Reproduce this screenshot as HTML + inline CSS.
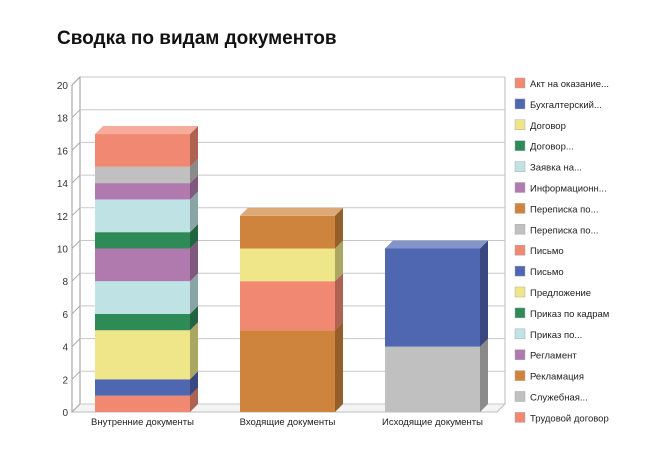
<!DOCTYPE html>
<html><head><meta charset="utf-8"><style>
body{margin:0;background:#fff;width:669px;height:458px;overflow:hidden;font-family:"Liberation Sans",sans-serif}
</style></head><body>
<svg id="c" width="669" height="458" xmlns="http://www.w3.org/2000/svg">
<text x="57" y="44" font-size="19" font-weight="bold" fill="#111">Сводка по видам документов</text>
</svg>
<script>
const categories=["Внутренние документы","Входящие документы","Исходящие документы"];
const seriesNames=["Акт на оказание...","Бухгалтерский...","Договор","Договор...","Заявка на...","Информационн...","Переписка по...","Переписка по...","Письмо","Письмо","Предложение","Приказ по кадрам","Приказ по...","Регламент","Рекламация","Служебная...","Трудовой договор"];
const seriesColors=["#f08872","#4f66b0","#efe68a","#2e8b57","#bfe2e5","#b07aaf","#cf843d","#c0c0c0","#f08872","#4f66b0","#efe68a","#2e8b57","#bfe2e5","#b07aaf","#cf843d","#c0c0c0","#f08872"];
const s0=[1,0,0],s1=[1,0,0],s2=[3,0,0],s3=[1,0,0],s4=[2,0,0],s5=[2,0,0],s6=[0,5,0],s7=[0,0,4],s8=[0,3,0],s9=[0,0,6],s10=[0,2,0],s11=[1,0,0],s12=[2,0,0],s13=[1,0,0],s14=[0,2,0],s15=[1,0,0],s16=[2,0,0];
const seriesValues=[s0,s1,s2,s3,s4,s5,s6,s7,s8,s9,s10,s11,s12,s13,s14,s15,s16];
const yTicks=[0,2,4,6,8,10,12,14,16,18,20];
const NS="http://www.w3.org/2000/svg",svg=document.getElementById('c');
const y0=412,yMax=20,ppu=(412-85)/20,dx=8,dy=8,xL=72,xR=497;
const y=v=>y0-v*ppu;
const barX=i=>95+i*145,bw=95;
function el(t,a,p){const e=document.createElementNS(NS,t);for(const k in a)e.setAttribute(k,a[k]);(p||svg).appendChild(e);return e;}
function shade(c,f){const n=parseInt(c.slice(1),16);let r=n>>16,g=(n>>8)&255,b=n&255;
 const m=v=>Math.max(0,Math.min(255,Math.round(f<1?v*f:v+(255-v)*(f-1))));return `rgb(${m(r)},${m(g)},${m(b)})`;}
// walls
let w=el('polygon',{points:`${xL},${y(0)} ${xL+dx},${y(0)-dy} ${xL+dx},${y(yMax)-dy} ${xL},${y(yMax)}`,fill:'#fff',stroke:'#999','stroke-width':1});

let fl=el('polygon',{points:`${xL},${y(0)} ${xL+dx},${y(0)-dy} ${xR+dx},${y(0)-dy} ${xR},${y(0)}`,fill:'#f4f4f4',stroke:'#bbb','stroke-width':1});

el('line',{x1:xR+dx,y1:y(0)-dy,x2:xR+dx,y2:y(yMax)-dy,stroke:'#bbb'});
yTicks.forEach(t=>{
 let g=el('line',{x1:xL+dx,y1:y(t)-dy,x2:xR+dx,y2:y(t)-dy,stroke:'#c8c8c8'});
 
 el('line',{x1:xL,y1:y(t),x2:xL+dx,y2:y(t)-dy,stroke:'#aaa'});
 let tx=el('text',{x:xL-4,y:y(t)+4,'font-size':10,fill:'#333','text-anchor':'end'});tx.textContent=t;
 
});
categories.forEach((c,i)=>{
 let x=barX(i),acc=0;
 seriesValues.forEach((sv,j)=>{const v=sv[i];if(!v)return;
  const col=seriesColors[j],yb=y(acc),yt=y(acc+v);acc+=v;
  let f=el('rect',{x:x,y:yt,width:bw,height:yb-yt,fill:col});
  
  el('polygon',{points:`${x+bw},${yb} ${x+bw+dx},${yb-dy} ${x+bw+dx},${yt-dy} ${x+bw},${yt}`,fill:shade(col,0.72)});
 });
 const tc=seriesColors[seriesValues.map(s=>s[i]).map((v,j)=>v?j:-1).filter(j=>j>=0).pop()];
 el('polygon',{points:`${x},${y(acc)} ${x+dx},${y(acc)-dy} ${x+bw+dx},${y(acc)-dy} ${x+bw},${y(acc)}`,fill:shade(tc,1.3)});
 let l=el('text',{x:x+bw/2,y:425,'font-size':9.5,fill:'#222','text-anchor':'middle'});l.textContent=c;
 
});
seriesNames.forEach((n,j)=>{const yy=78+j*20.9;
 let g=el('g',{});
 el('rect',{x:515,y:yy,width:10,height:10,fill:seriesColors[j],stroke:'#aaa','stroke-width':0.5},g);
 let t=el('text',{x:530,y:yy+9,'font-size':9.5,fill:'#222'},g);t.textContent=n;
});
</script>
</body></html>
